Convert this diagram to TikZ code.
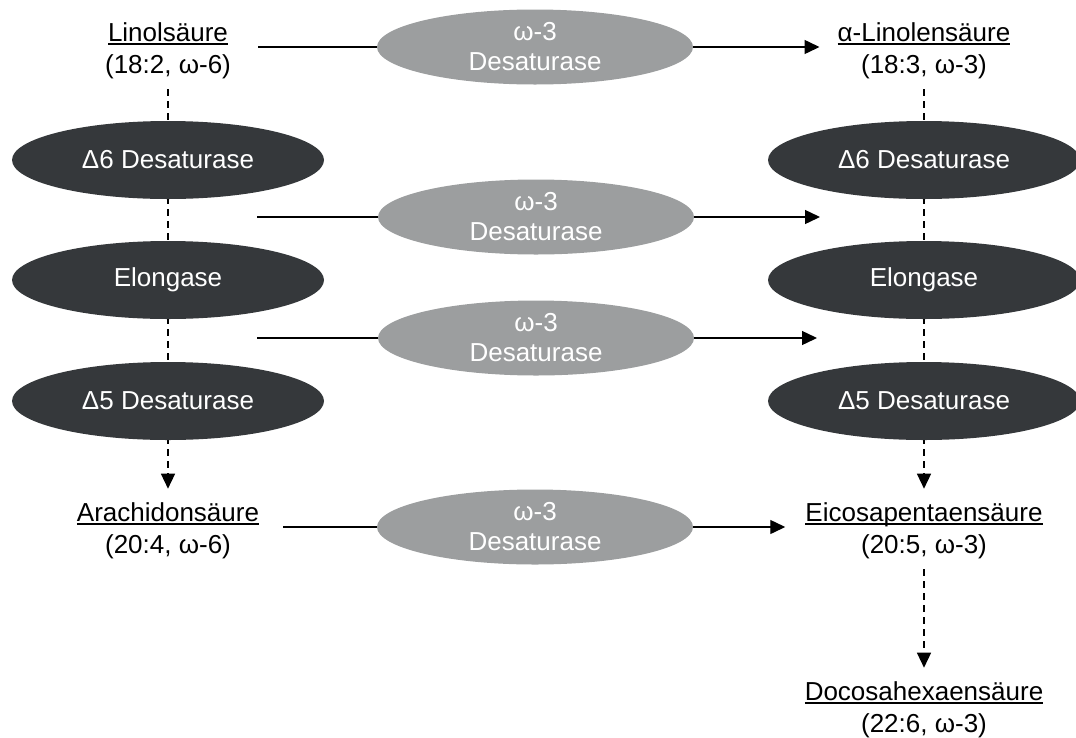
\documentclass[tikz,border=0pt]{standalone}
\usepackage{fontspec}
\setmainfont{Liberation Sans}
\usetikzlibrary{shapes.geometric,arrows.meta}
\definecolor{darkell}{HTML}{35383B}
\definecolor{greyell}{HTML}{9C9E9F}
\pgfdeclarelayer{bg}
\pgfsetlayers{bg,main}
\newcommand\uln[1]{\setbox0\hbox{#1}\leavevmode\rlap{\rule[-3pt]{\wd0}{1.3pt}}\box0}
\begin{document}
\begin{tikzpicture}[x=1pt,y=-1pt,
  txt/.style={font=\fontsize{26}{32}\selectfont},
  acid/.style={txt,align=center,inner sep=0pt},
  enz/.style={txt,ellipse,minimum width=312pt,minimum height=78pt,inner sep=0pt,fill=darkell,text=white},
  omega/.style={font=\fontsize{26}{30}\selectfont,ellipse,align=center,minimum width=316pt,minimum height=75pt,inner sep=0pt,fill=greyell,text=white},
  flow/.style={line width=1.4pt,-{Triangle[length=15pt,width=14pt]}},
  dflow/.style={flow,dash pattern=on 7pt off 5pt}]
\useasboundingbox (0,0) rectangle (1076,737);
% acids
\node[acid] (lino) at (168,51) {\uln{Linolsäure}\\(18:2, ω-6)};
\node[acid] (alin) at (924,51) {\uln{α-Linolensäure}\\(18:3, ω-3)};
\node[acid] (arach) at (168,531) {\uln{Arachidonsäure}\\(20:4, ω-6)};
\node[acid] (eico) at (924,531) {\uln{Eicosapentaensäure}\\(20:5, ω-3)};
\node[acid] (doco) at (924,710) {\uln{Docosahexaensäure}\\(22:6, ω-3)};
% enzymes
\node[enz] (d6l) at (168,160) {Δ6 Desaturase};
\node[enz] (ell) at (168,280) {Elongase};
\node[enz] (d5l) at (168,401) {Δ5 Desaturase};
\node[enz] (d6r) at (924,160) {Δ6 Desaturase};
\node[enz] (elr) at (924,280) {Elongase};
\node[enz] (d5r) at (924,401) {Δ5 Desaturase};
\node[omega] (w1) at (535,47) {ω-3\\Desaturase};
\node[omega] (w2) at (536,217) {ω-3\\Desaturase};
\node[omega] (w3) at (536,338) {ω-3\\Desaturase};
\node[omega] (w4) at (535,527) {ω-3\\Desaturase};
% free ends
\coordinate (s2) at (257,217);
\coordinate (e2) at (820,217);
\coordinate (s3) at (257,338);
\coordinate (e3) at (817,338);
\begin{pgfonlayer}{bg}
\draw[flow,shorten <=27pt,shorten >=18pt] (lino.east |- w1) -- (alin.west |- w1);
\draw[flow] (s2) -- (e2);
\draw[flow] (s3) -- (e3);
\draw[flow,shorten <=24pt,shorten >=20pt] (arach.east |- w4) -- (eico.west |- w4);
\draw[dflow,shorten <=10pt,shorten >=14pt] (lino) -- (arach);
\draw[dflow,shorten <=10pt,shorten >=14pt] (alin) -- (eico);
\draw[dflow,shorten <=10pt,shorten >=14pt] (eico) -- (doco);
\end{pgfonlayer}
\end{tikzpicture}
\end{document}
